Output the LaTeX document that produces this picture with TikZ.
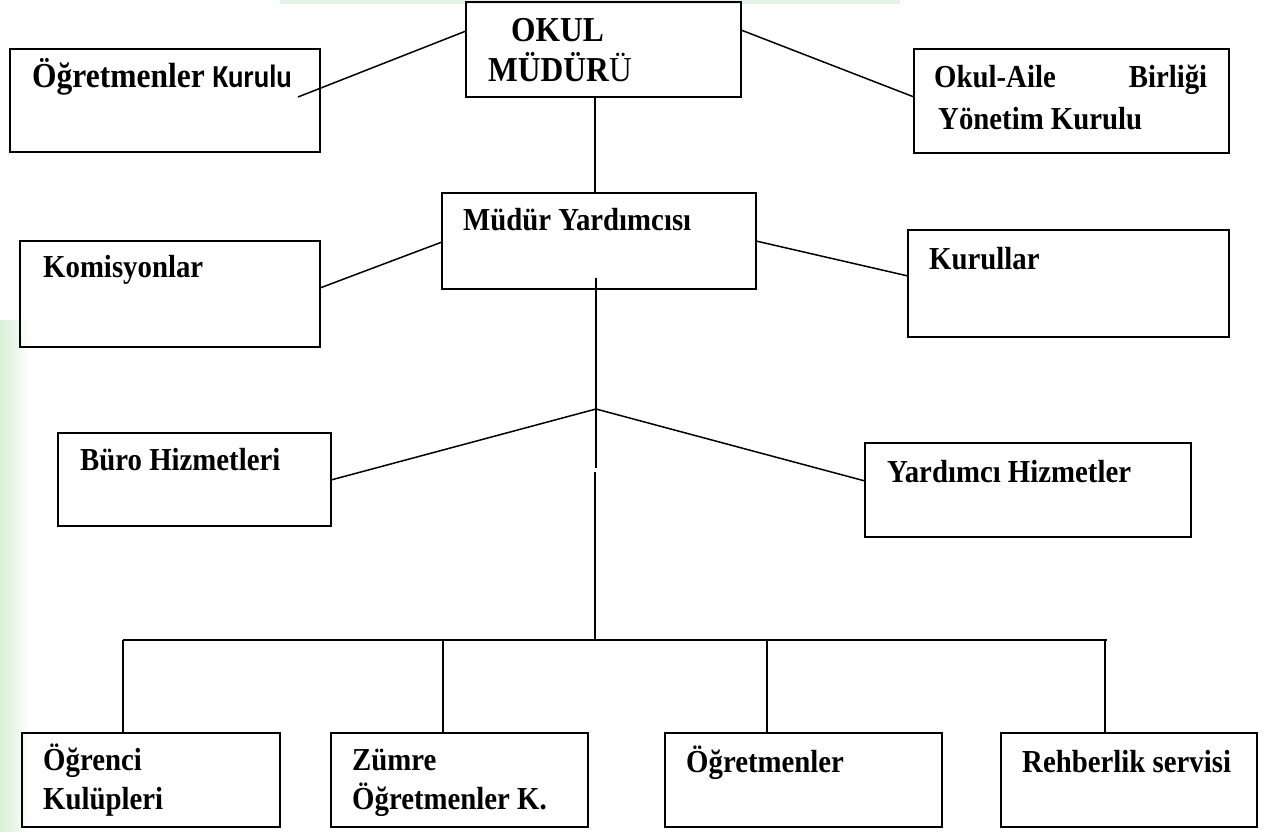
\documentclass[tikz,border=0pt]{standalone}
\usepackage{fontspec}
\setmainfont[FakeStretch=0.9]{Liberation Serif}
\newfontfamily\calibrifont[FakeStretch=0.9]{Carlito}
\usetikzlibrary{calc}
\definecolor{wmgreen}{HTML}{D8EFD8}
\tikzset{
  box/.style={draw=black, line width=1.6pt, rectangle, inner sep=0pt, outer sep=0pt, anchor=north west},
  lbl/.style={anchor=base west, inner sep=0pt, font=\fontsize{32}{39}\selectfont\bfseries},
  conn/.style={draw=black, line width=1.5pt},
}
\newcommand{\twolines}[2]{\vtop{\hbox{#1}\hbox{#2}}}
\begin{document}
\begin{tikzpicture}[x=1pt, y=-1pt]
\useasboundingbox (0,0) rectangle (1272,832);
% faint watermark
\shade[left color=wmgreen, right color=white] (0,320) rectangle (30,832);
\fill[wmgreen!70] (280,0) rectangle (900,4);
% boxes
\node[box, minimum width=275pt, minimum height=95pt] (okul) at (466,2) {};
\node[box, minimum width=310pt, minimum height=103pt] (ogk) at (10,49) {};
\node[box, minimum width=315pt, minimum height=104pt] (oab) at (914,49) {};
\node[box, minimum width=314pt, minimum height=96pt] (my) at (442,193) {};
\node[box, minimum width=300pt, minimum height=106pt] (kom) at (20,241) {};
\node[box, minimum width=321pt, minimum height=107pt] (kur) at (908,230) {};
\node[box, minimum width=273pt, minimum height=93pt] (buro) at (58,433) {};
\node[box, minimum width=326pt, minimum height=94pt] (yh) at (865,443) {};
\node[box, minimum width=258pt, minimum height=94pt] (ok) at (22,733) {};
\node[box, minimum width=257pt, minimum height=94pt] (zok) at (331,733) {};
\node[box, minimum width=277pt, minimum height=94pt] (ogr) at (665,733) {};
\node[box, minimum width=256pt, minimum height=94pt] (reh) at (1001,733) {};
% labels
\node[lbl, font=\fontsize{35}{40}\selectfont\bfseries] (tokul) at (488,42) {\twolines{\kern23pt OKUL}{MÜDÜR\textmd{Ü}}};
\node[lbl, font=\fontsize{35}{40}\selectfont\bfseries] (togk) at (32,88) {Öğretmenler {\calibrifont\fontsize{32}{36}\selectfont Kurulu}};
\node[lbl, font=\fontsize{32}{42}\selectfont\bfseries] (toab) at (934,88) {\twolines{\hbox to 273pt{Okul-Aile\hfill Birliği}}{\kern4pt Yönetim Kurulu}};
\node[lbl] (tmy) at (463,230) {Müdür Yardımcısı};
\node[lbl] (tkom) at (43,277) {Komisyonlar};
\node[lbl] (tkur) at (929,269) {Kurullar};
\node[lbl] (tburo) at (80,470) {Büro Hizmetleri};
\node[lbl] (tyh) at (887,482) {Yardımcı Hizmetler};
\node[lbl] (tok) at (43,770) {\twolines{Öğrenci}{Kulüpleri}};
\node[lbl] (tzok) at (352,770) {\twolines{Zümre}{Öğretmenler K.}};
\node[lbl] (togr) at (686,772) {Öğretmenler};
\node[lbl] (treh) at (1022,772) {Rehberlik servisi};
% connector points
\coordinate (j) at (596,409);
\coordinate (bl) at (123,640);
\coordinate (br) at (1107,640);
% connectors
\draw[conn] ($(ogk.north east)+(-22,48)$) -- ($(okul.north west)+(0,29)$);
\draw[conn] ($(okul.north east)+(0,28)$) -- ($(oab.north west)+(0,48)$);
\draw[conn] ($(okul.south west)+(129,0)$) -- ($(my.north west)+(153,0)$);
\draw[conn] ($(kom.north east)+(0,47)$) -- ($(my.north west)+(0,49)$);
\draw[conn] ($(my.north east)+(0,48)$) -- ($(kur.north west)+(0,46)$);
\draw[conn] ($(my.north west)+(154,85)$) -- (j) -- ++(0,59);
\draw[conn] ($(j)+(-1,63)$) -- (bl -| 595,0);
\draw[conn] (j) -- ($(buro.north east)+(0,47)$);
\draw[conn] (j) -- ($(yh.north west)+(0,38)$);
\draw[conn] (bl) -- (br);
\draw[conn] (bl) -- ($(ok.north west)+(101,0)$);
\draw[conn] ($(zok.north west)+(112,0)$) ++(0,-93) -- ($(zok.north west)+(112,0)$);
\draw[conn] ($(ogr.north west)+(102,0)$) ++(0,-93) -- ($(ogr.north west)+(102,0)$);
\draw[conn] ($(reh.north west)+(104,0)$) ++(0,-93) -- ($(reh.north west)+(104,0)$);
\end{tikzpicture}
\end{document}
